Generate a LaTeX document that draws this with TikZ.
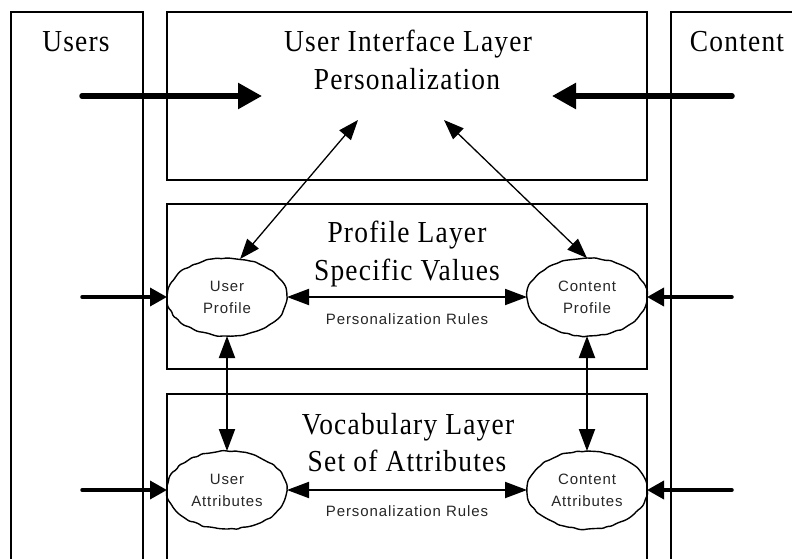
\documentclass[tikz,border=0pt]{standalone}
\usepackage{fontspec}
\setmainfont{Liberation Serif}
\setsansfont{Liberation Sans}
\newfontfamily\titlefont{Liberation Serif}[FakeStretch=0.9, LetterSpace=4]
\newfontfamily\labelfont{Liberation Sans}[LetterSpace=6]
\usetikzlibrary{arrows.meta,shapes.geometric,decorations.pathmorphing}

\begin{document}
\begin{tikzpicture}[x=1pt,y=-1pt,
  frame/.style={draw, line width=1.8pt, rectangle, inner sep=0pt, outer sep=0pt},
  title/.style={font=\titlefont\fontsize{30.5}{36}\selectfont, anchor=base, inner sep=0pt},
  blob/.style={ellipse, draw, line width=1.4pt, minimum width=120pt, minimum height=78pt,
    inner sep=0pt, outer sep=0pt, align=center, text=black!85,
    font=\labelfont\fontsize{15}{22}\selectfont,
    decorate, decoration={random steps, segment length=5pt, amplitude=0.8pt},
    rounded corners=1.2pt},
  rulelabel/.style={font=\labelfont\fontsize{15}{18}\selectfont, anchor=base,
    inner sep=0pt, text=black!85},
  bigarrow/.style={-{Triangle[length=24pt,width=25pt]}, line width=5.5pt, line cap=round},
  sidearrow/.style={-{Triangle[length=17pt,width=18pt]}, line width=3.5pt, line cap=round},
  link/.style={{Triangle[length=20pt,width=15pt]}-{Triangle[length=20pt,width=15pt]}, line width=1.3pt},
  rulearrow/.style={{Triangle[length=22pt,width=16pt]}-{Triangle[length=22pt,width=16pt]}, line width=2pt},
]
\pgfmathsetseed{7}
\useasboundingbox (0,0) rectangle (792,559);
\clip (0,0) rectangle (792,559);

% outer columns and the three layers
\node[frame, minimum width=132pt, minimum height=568pt] (users) at (77,296) {};
\node[frame, minimum width=149pt, minimum height=568pt] (content) at (745.5,296) {};
\node[frame, minimum width=480pt, minimum height=168pt] (ui) at (407,96) {};
\node[frame, minimum width=480pt, minimum height=165pt] (profile) at (407,286.5) {};
\node[frame, minimum width=480pt, minimum height=186pt] (vocab) at (407,487) {};

% titles
\node[title] (usersT) at (76,52) {Users};
\node[title] (contentT) at (737,52) {Content};
\node[title] (uiT1) at (408,52) {User Interface Layer};
\node[title] (uiT2) at (407,90) {Personalization};
\node[title] (prT1) at (407,242) {Profile Layer};
\node[title] (prT2) at (407,280) {Specific Values};
\node[title] (voT1) at (408,434) {Vocabulary Layer};
\node[title] (voT2) at (407,471) {Set of Attributes};

% profile and attribute blobs
\node[blob] (up) at (227,297) {User\\Profile};
\node[blob] (cp) at (587,297) {Content\\Profile};
\node[blob] (ua) at (227,490) {User\\Attributes};
\node[blob] (ca) at (587,490) {Content\\Attributes};

\node[rulelabel] (prRule) at (407,324) {Personalization Rules};
\node[rulelabel] (voRule) at (407,516) {Personalization Rules};

% free ends of the connectors
\coordinate (usersIn) at (82,96);
\coordinate (uiLeft) at (262,96);
\coordinate (contentIn) at (732,96);
\coordinate (uiRight) at (552,96);
\coordinate (uiA) at (358,120);
\coordinate (uiB) at (444,120);
\coordinate (usersP) at (82,297);
\coordinate (contentP) at (732,297);
\coordinate (usersV) at (82,490);
\coordinate (contentV) at (732,490);

% connectors
\draw[bigarrow] (usersIn) -- (uiLeft);
\draw[bigarrow] (contentIn) -- (uiRight);
\draw[link] (uiA) -- (up.71);
\draw[link] (uiB) -- (cp.north);
\draw[rulearrow] (up.east) -- (cp.west);
\draw[rulearrow] (ua.east) -- (ca.west);
\draw[rulearrow] (up.south) -- (ua.north);
\draw[rulearrow] (cp.south) -- (ca.north);
\draw[sidearrow] (usersP) -- (up.west);
\draw[sidearrow] (contentP) -- (cp.east);
\draw[sidearrow] (usersV) -- (ua.west);
\draw[sidearrow] (contentV) -- (ca.east);
\end{tikzpicture}
\end{document}
